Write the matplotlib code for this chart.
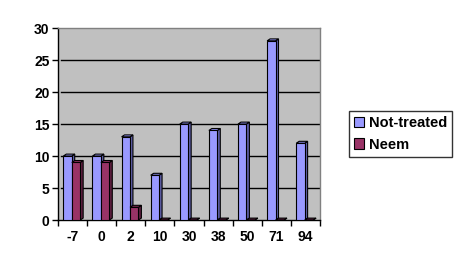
import matplotlib
matplotlib.use("Agg")
import matplotlib.pyplot as plt
from matplotlib.patches import Polygon, Patch
import numpy as np

categories = ["-7", "0", "2", "10", "30", "38", "50", "71", "94"]
not_treated = [10, 10, 13, 7, 15, 14, 15, 28, 12]
neem = [9, 9, 2, 0, 0, 0, 0, 0, 0]

series = [("Not-treated", not_treated, "#9999FF", "#5F5FA8", -0.17),
          ("Neem", neem, "#993366", "#5E1F40", 0.12)]

plt.rcParams["font.family"] = ["Liberation Sans", "DejaVu Sans"]
plt.rcParams["font.weight"] = "bold"

fig = plt.figure(figsize=(4.62, 2.68), dpi=100)
ax = fig.add_axes([0.1255, 0.179, 0.5671, 0.7164])
ax.set_facecolor("#C0C0C0")

width = 0.29
dx, dy = 0.1, 0.3  # fake 3D depth
x = np.arange(len(categories))

for i in x:
    for name, vals, fc, sc, off in series:
        v = vals[i]
        x0 = i + off - width / 2
        x1 = x0 + width
        z = 3 + i
        # side face
        ax.add_patch(Polygon([(x1, 0), (x1 + dx, dy), (x1 + dx, v + dy), (x1, v)],
                             closed=True, fc=sc, ec="black", lw=0.8, zorder=z))
        # top face
        ax.add_patch(Polygon([(x0, v), (x0 + dx, v + dy), (x1 + dx, v + dy), (x1, v)],
                             closed=True, fc=fc if v > 0 else sc, ec="black", lw=0.8, zorder=z))
        ax.bar(x0, v, width=width, align="edge", color=fc, edgecolor="black",
               linewidth=0.8, zorder=z)

ax.set_xlim(-0.5, len(categories) - 0.5)
ax.set_ylim(0, 30)
ax.set_yticks(range(0, 31, 5))
for yv in range(5, 30, 5):
    ax.axhline(yv, xmin=0.012, xmax=1, color="black", lw=1, zorder=1)

ax.set_xticks(x)
ax.set_xticklabels(categories)
ax.set_xticks(np.arange(-0.5, len(categories)), minor=True)
ax.tick_params(axis="x", which="major", length=0, labelsize=10, pad=7)
ax.tick_params(axis="x", which="minor", length=4, width=1, direction="out")
ax.tick_params(axis="y", length=4, width=1, labelsize=10, pad=2)

for s in ["top", "right"]:
    ax.spines[s].set_color("#808080")
    ax.spines[s].set_linewidth(1)
ax.spines["left"].set_color("black")
ax.spines["bottom"].set_color("black")
ax.spines["left"].set_linewidth(1)
ax.spines["bottom"].set_linewidth(1)

handles = [Patch(fc=fc, ec="black", lw=0.8, label=name) for name, _, fc, _, _ in series]
leg = fig.legend(handles=handles, loc="center", bbox_to_anchor=(0.867, 0.5),
                 frameon=True, fancybox=False, edgecolor="black", fontsize=10.5,
                 handlelength=0.7, handleheight=0.7, handletextpad=0.3,
                 borderpad=0.35, labelspacing=0.5, borderaxespad=0)
leg.get_frame().set_linewidth(1)

fig.savefig("out.png", dpi=100)
